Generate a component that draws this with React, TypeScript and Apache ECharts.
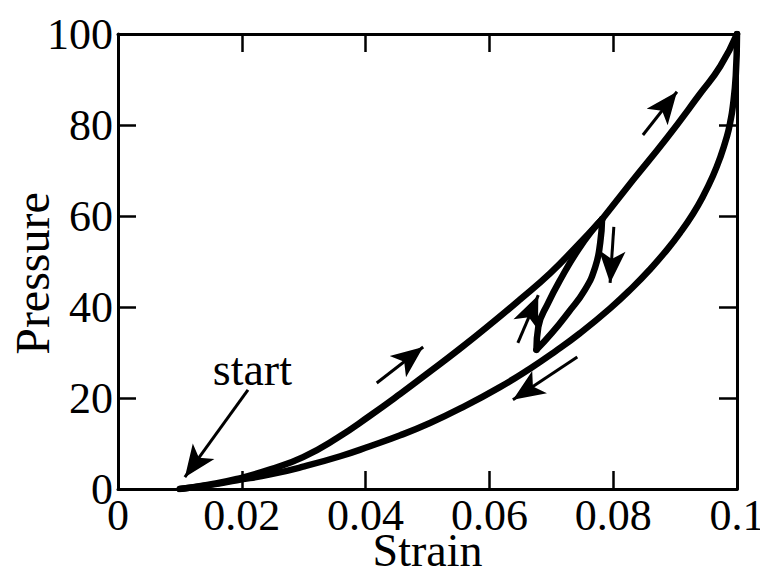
import { useEffect, useRef } from "react";
import * as echarts from "echarts";

const FONT = '"Liberation Serif", "Times New Roman", serif';
const INK = "#000";

// Axis ranges and ticks
const strainTicks = [0, 0.02, 0.04, 0.06, 0.08, 0.1];
const pressureTicks = [0, 20, 40, 60, 80, 100];

// Initial loading branch: start up to the turning point
const loadStrain = [0.01, 0.0149, 0.0192, 0.0246, 0.0299, 0.0354, 0.0407, 0.0456, 0.0499, 0.0553, 0.0606, 0.0649, 0.0698, 0.0738, 0.0782];
const loadPressure = [0, 1.0, 2.2, 4.3, 7.0, 11.2, 16.1, 20.9, 25.3, 30.9, 36.7, 41.6, 47.4, 52.9, 59.3];

// Partial unload inside the loop
const innerUnloadStrain = [0.0782, 0.0779, 0.0771, 0.0754, 0.0727, 0.0701, 0.0676];
const innerUnloadPressure = [59.3, 54.1, 48.8, 43.7, 38.7, 34.3, 30.6];

// Reload back to the turning point
const innerReloadStrain = [0.0676, 0.0679, 0.0695, 0.0717, 0.0743, 0.0767, 0.0782];
const innerReloadPressure = [30.6, 35.6, 40.9, 46.6, 52.5, 57.0, 59.3];

// Continued loading to the maximum
const loadTopStrain = [0.0782, 0.0832, 0.0887, 0.094, 0.0973, 0.1];
const loadTopPressure = [59.3, 67.9, 77.2, 86.8, 92.9, 100];

// Full unloading branch back to the start
const unloadStrain = [0.1, 0.0998, 0.0993, 0.0989, 0.0984, 0.0973, 0.0961, 0.0945, 0.0929, 0.0908, 0.0887, 0.0859, 0.0832, 0.0795, 0.0746, 0.0706, 0.0666, 0.0617, 0.0553, 0.0504, 0.0456, 0.0407, 0.0359, 0.0299, 0.0246, 0.0192, 0.0149, 0.01];
const unloadPressure = [100, 90.8, 83.8, 80.6, 77.6, 72.9, 68.8, 64.3, 60.5, 56.3, 52.6, 48.2, 44.4, 39.7, 34.2, 30.2, 26.5, 22.4, 17.7, 14.5, 11.8, 9.4, 7.2, 4.9, 3.2, 1.9, 0.9, 0];

// Direction arrows: tail and head in (strain, pressure)
const arrowTails = [[0.021, 21.8], [0.0418, 23.3], [0.0848, 77.8], [0.0801, 57.6], [0.0646, 32.1], [0.0742, 29.0]];
const arrowHeads = [[0.0108, 2.6], [0.0493, 31.2], [0.0903, 87.3], [0.0795, 45.3], [0.0679, 42.6], [0.0638, 19.6]];

// "start" annotation
const startLabelAt = [0.0217, 26.2];
const startLabelText = "start";

const zip = (xs: number[], ys: number[]) => xs.map((x, i) => [x, ys[i]]);

const curve = (name: string, xs: number[], ys: number[]) => ({
  name,
  type: "line",
  xAxisIndex: 0,
  yAxisIndex: 0,
  data: zip(xs, ys),
  smooth: 0.5,
  showSymbol: false,
  symbol: "none",
  lineStyle: { color: INK, width: 6.5, cap: "round", join: "round" },
  z: 3,
});

const tickStyle = { show: true, inside: true, length: 18, lineStyle: { color: INK, width: 2.5 } };
const lineStyle = { show: true, onZero: false, lineStyle: { color: INK, width: 3 } };

export default function App() {
  const ref = useRef<HTMLDivElement>(null);

  useEffect(() => {
    if (!ref.current) return;
    const chart = echarts.init(ref.current, undefined, { renderer: "svg" });
    const [xMin, xMax] = [strainTicks[0], strainTicks[strainTicks.length - 1]];
    const [yMin, yMax] = [pressureTicks[0], pressureTicks[pressureTicks.length - 1]];
    const xStep = strainTicks[1] - strainTicks[0];
    const yStep = pressureTicks[1] - pressureTicks[0];

    chart.setOption({
      animation: false,
      backgroundColor: "#fff",
      grid: { left: 118, right: 23, top: 34, bottom: 87, containLabel: false, outerBoundsMode: "none" },
      xAxis: [
        {
          type: "value",
          position: "bottom",
          min: xMin,
          max: xMax,
          interval: xStep,
          name: "Strain",
          nameLocation: "middle",
          nameGap: 38,
          nameMoveOverlap: false,
          nameTextStyle: { fontFamily: FONT, fontSize: 46, color: INK },
          axisLine: lineStyle,
          axisTick: tickStyle,
          axisLabel: { fontFamily: FONT, fontSize: 44, color: INK, margin: 4 },
          splitLine: { show: false },
        },
        {
          type: "value",
          position: "top",
          min: xMin,
          max: xMax,
          interval: xStep,
          axisLine: lineStyle,
          axisTick: tickStyle,
          axisLabel: { show: false },
          splitLine: { show: false },
        },
      ],
      yAxis: [
        {
          type: "value",
          position: "left",
          min: yMin,
          max: yMax,
          interval: yStep,
          name: "Pressure",
          nameLocation: "middle",
          nameGap: 62,
          nameMoveOverlap: false,
          nameTextStyle: { fontFamily: FONT, fontSize: 48, color: INK, padding: [0, 24, 0, 0] },
          axisLine: lineStyle,
          axisTick: tickStyle,
          axisLabel: { fontFamily: FONT, fontSize: 44, color: INK, margin: 5 },
          splitLine: { show: false },
        },
        {
          type: "value",
          position: "right",
          min: yMin,
          max: yMax,
          interval: yStep,
          axisLine: lineStyle,
          axisTick: tickStyle,
          axisLabel: { show: false },
          splitLine: { show: false },
        },
      ],
      series: [
        curve("loading", loadStrain, loadPressure),
        curve("partial unloading", innerUnloadStrain, innerUnloadPressure),
        curve("reloading", innerReloadStrain, innerReloadPressure),
        curve("loading to peak", loadTopStrain, loadTopPressure),
        curve("unloading", unloadStrain, unloadPressure),
        {
          name: "direction",
          type: "lines",
          coordinateSystem: "cartesian2d",
          xAxisIndex: 0,
          yAxisIndex: 0,
          symbol: ["none", "arrow"],
          symbolSize: [[1, 1], [20, 32]],
          lineStyle: { color: INK, width: 3, opacity: 1, curveness: 0 },
          itemStyle: { color: INK },
          data: arrowTails.map((t, i) => ({ coords: [t, arrowHeads[i]] })),
          z: 4,
        },
        {
          name: "note",
          type: "scatter",
          xAxisIndex: 0,
          yAxisIndex: 0,
          symbolSize: 0,
          itemStyle: { opacity: 1 },
          data: [startLabelAt],
          label: {
            show: true,
            position: "inside",
            formatter: startLabelText,
            fontFamily: FONT,
            fontSize: 46,
            color: INK,
            opacity: 1,
          },
          z: 5,
        },
      ],
    });

    return () => chart.dispose();
  }, []);

  return (
    <div
      ref={ref}
      style={{ position: "absolute", left: 0, top: 0, width: 760, height: 576, background: "#fff" }}
    />
  );
}
